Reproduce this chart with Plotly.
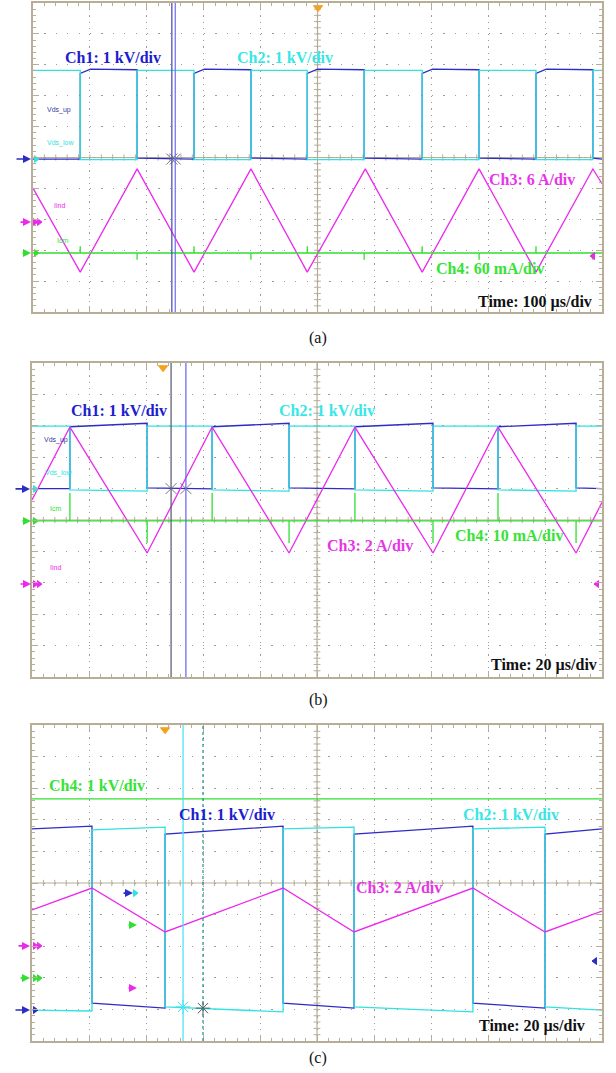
import plotly.graph_objects as go

W, H = 616, 1073

# ---------------- Panel (a): 100 us/div ----------------
a_edges = [0, 83, 183, 283, 383, 482, 582, 684, 784, 884, 984, 1000]
a_ch1_start = [-0.05, 2.72, -0.02, 2.72, -0.02, 2.72, -0.02, 2.72, -0.02, 2.72, -0.02]
a_ch1_knee = [None, 2.86, None, 2.86, None, 2.86, None, 2.86, None, 2.86, None]
a_ch1_knee_dt = 18
a_ch1_end = [-0.05, 2.84, -0.05, 2.84, -0.05, 2.84, -0.05, 2.84, -0.05, 2.84, -0.05]
a_ch2_start = [2.82, -0.07, 2.82, -0.07, 2.82, -0.07, 2.82, -0.07, 2.82, -0.07, 2.82]
a_ch2_end = [2.82, -0.07, 2.82, -0.07, 2.82, -0.07, 2.82, -0.07, 2.82, -0.07, 2.82]
a_ch3_t = [0, 83, 183, 283, 383, 482, 584, 684, 784, 884, 984, 1000]
a_ch3_v = [-0.99, -3.71, -0.37, -3.71, -0.37, -3.71, -0.37, -3.71, -0.37, -3.71, -0.37, -0.85]
a_ch4_level = -3.09
a_ch4_spike_t = [83, 183, 283, 383, 482, 582, 684, 784, 884, 984]
a_ch4_spike_v = [-2.87, -3.31, -2.87, -3.31, -2.87, -3.31, -2.87, -3.31, -2.87, -3.31]

# ---------------- Panel (b): 20 us/div ----------------
b_edges = [0, 13.3, 40.4, 63.2, 90.2, 113.3, 140.7, 163.5, 190.9, 200]
b_ch1_start = [1.00, 2.97, 1.02, 2.97, 1.02, 2.97, 1.02, 2.97, 1.02]
b_ch1_end = [1.00, 3.08, 0.99, 3.08, 0.99, 3.08, 0.99, 3.08, 1.00]
b_ch2_start = [2.99, 0.96, 2.99, 0.96, 2.99, 0.96, 2.99, 0.96, 2.99]
b_ch2_end = [2.99, 0.92, 2.99, 0.92, 2.99, 0.92, 2.99, 0.92, 2.99]
b_ch3_t = [0, 13.3, 40.4, 63.2, 90.2, 113.3, 140.7, 163.5, 190.9, 200]
b_ch3_v = [0.64, 2.96, -1.05, 2.96, -1.05, 2.96, -1.05, 2.96, -1.05, 0.56]
b_ch4_level = -0.03
b_ch4_spike_t = [13.3, 40.4, 63.2, 90.2, 113.3, 140.7, 163.5, 190.9]
b_ch4_spike_v = [0.86, -0.73, 0.86, -0.73, 0.86, -0.73, 0.86, -0.73]

# ---------------- Panel (c): 20 us/div ----------------
c_edges = [0, 21.05, 46.7, 88.1, 113.0, 154.7, 180.0, 200]
c_ch1_start = [1.71, -3.80, 1.55, -3.80, 1.55, -3.80, 1.55]
c_ch1_end = [1.80, -3.96, 1.80, -3.96, 1.80, -3.96, 1.71]
c_ch2_start = [-4.02, 1.68, -3.92, 1.71, -3.92, 1.71, -3.92]
c_ch2_end = [-4.05, 1.77, -4.08, 1.77, -4.08, 1.77, -4.02]
c_ch3_t = [0, 21.05, 46.7, 88.1, 113.0, 154.7, 180.0, 200]
c_ch3_v = [-0.85, -0.16, -1.55, -0.16, -1.55, -0.16, -1.55, -0.89]
c_ch4_t = [0, 200]
c_ch4_v = [2.66, 2.66]

# scale labels
a_labels = ["Ch1: 1 kV/div", "Ch2: 1 kV/div", "Ch3: 6 A/div", "Ch4: 60 mA/div", "Time: 100 \u00b5s/div"]
b_labels = ["Ch1: 1 kV/div", "Ch2: 1 kV/div", "Ch3: 2 A/div", "Ch4: 10 mA/div", "Time: 20 \u00b5s/div"]
c_labels = ["Ch1: 1 kV/div", "Ch2: 1 kV/div", "Ch3: 2 A/div", "Ch4: 1 kV/div", "Time: 20 \u00b5s/div"]
trace_names = ["Vds_up", "Vds_low", "Iind", "Icm"]

# ---------------- styles ----------------
LINE = {"ch1": "#2c2cc6", "ch2": "#30e2e2", "ch3": "#ec28ec", "ch4": "#30df30"}
TEXT = {"ch1": "#1d1dce", "ch2": "#38e6e6", "ch3": "#e834e8", "ch4": "#36e336", "time": "#111111"}
FRAME = "#b8ae97"
GRID = "#9c9c9c"
SERIF = "Liberation Serif"


def square(edges, start, end, knee=None, knee_dt=0):
    xs, ys = [], []
    for i in range(len(start)):
        xs.append(edges[i])
        ys.append(start[i])
        if knee is not None and knee[i] is not None:
            xs.append(edges[i] + knee_dt)
            ys.append(knee[i])
        xs.append(edges[i + 1])
        ys.append(end[i])
    return xs, ys


def spikes(span, level, ts, vs):
    xs, ys = [0], [level]
    for t, v in zip(ts, vs):
        xs += [t, t, t]
        ys += [level, v, level]
    xs.append(span)
    ys.append(level)
    return xs, ys


panels = [
    dict(xa="x", ya="y", xdom=(33 / W, 602 / W), ydom=(1 - 312 / H, 1 - 3 / H), span=1000,
         label="(a)", label_y=338, left=33, pxdiv=56.9),
    dict(xa="x2", ya="y2", xdom=(32 / W, 602 / W), ydom=(1 - 677 / H, 1 - 363 / H), span=200,
         label="(b)", label_y=700, left=32, pxdiv=57.0),
    dict(xa="x3", ya="y3", xdom=(32 / W, 602 / W), ydom=(1 - 1041 / H, 1 - 725 / H), span=200,
         label="(c)", label_y=1058, left=32, pxdiv=57.0),
]

fig = go.Figure()
annotations = []
shapes = []


def add_line(p, x, y, color, width=1.3, dash=None):
    fig.add_trace(go.Scatter(x=x, y=y, xaxis=p["xa"], yaxis=p["ya"], mode="lines",
                             line=dict(color=color, width=width, dash=dash),
                             hoverinfo="skip", showlegend=False))


def add_marks(p, x, y, symbol, color, size, lw=1):
    fig.add_trace(go.Scatter(x=x, y=y, xaxis=p["xa"], yaxis=p["ya"], mode="markers",
                             marker=dict(symbol=symbol, color=color, size=size,
                                         line=dict(color=color, width=lw)),
                             cliponaxis=False, hoverinfo="skip", showlegend=False))


def t_of(p, px):
    return (px - p["left"]) / p["pxdiv"] * p["span"] / 10


def text(p, x, y, s, color, size=16, anchor="center", bold=True, family=SERIF):
    annotations.append(dict(x=x, y=y, xref=p["xa"], yref=p["ya"], text=("<b>%s</b>" % s) if bold else s,
                            showarrow=False, xanchor=anchor, yanchor="middle",
                            font=dict(family=family, size=size, color=color)))


def arrow(p, head_px, tail_px, y, color):
    annotations.append(dict(x=head_px / W, y=y, xref="paper", yref=p["ya"], text="",
                            showarrow=True, ax=tail_px - head_px, ay=0, arrowhead=2,
                            arrowsize=1, arrowwidth=1.6, arrowcolor=color, standoff=0))


def grid_decor(p):
    span = p["span"]
    c = span / 2
    shapes.append(dict(type="line", xref=p["xa"], yref=p["ya"], x0=c, x1=c, y0=-5, y1=5,
                       line=dict(color=FRAME, width=1.2), layer="below"))
    shapes.append(dict(type="line", xref=p["xa"], yref=p["ya"], x0=0, x1=span, y0=0, y1=0,
                       line=dict(color=FRAME, width=1.2), layer="below"))
    xs, ys = [], []
    for k in range(1, 50):
        yy = -5 + k * 0.2
        xs += [c - span * 0.006, c + span * 0.006, None]
        ys += [yy, yy, None]
        xx = k * span / 50
        xs += [xx, xx, None]
        ys += [-0.1, 0.1, None]
    add_line(p, xs, ys, FRAME, width=1)


layout_axes = {}
for p in panels:
    n = p["xa"][1:]
    span = p["span"]
    common = dict(showticklabels=False, showline=True, linecolor=FRAME, linewidth=1.5,
                  mirror="allticks", ticks="inside", tickcolor=FRAME, tickwidth=1, ticklen=6,
                  zeroline=False, showgrid=True, gridcolor=GRID, gridwidth=1, fixedrange=True)
    layout_axes["xaxis" + n] = dict(domain=list(p["xdom"]), range=[0, span], dtick=span / 10, tick0=0,
                                    anchor=p["ya"], griddash="1.2px,5px",
                                    minor=dict(dtick=span / 50, ticks="inside", ticklen=3,
                                               tickcolor=FRAME, showgrid=False), **common)
    layout_axes["yaxis" + n] = dict(domain=list(p["ydom"]), range=[-5, 5], dtick=1, tick0=0,
                                    anchor=p["xa"], griddash="1.2px,10.2px",
                                    minor=dict(dtick=0.2, ticks="inside", ticklen=3,
                                               tickcolor=FRAME, showgrid=False), **common)
    grid_decor(p)
    annotations.append(dict(x=318 / W, y=1 - p["label_y"] / H, xref="paper", yref="paper",
                            text=p["label"], showarrow=False, xanchor="center", yanchor="middle",
                            font=dict(family=SERIF, size=16, color="#111111")))

pa, pb, pc = panels

# ---------------- Panel (a) ----------------
x, y = square(a_edges, a_ch1_start, a_ch1_end, a_ch1_knee, a_ch1_knee_dt)
add_line(pa, x, y, LINE["ch1"])
x, y = square(a_edges, a_ch2_start, a_ch2_end)
add_line(pa, x, y, LINE["ch2"])
add_line(pa, a_ch3_t, a_ch3_v, LINE["ch3"])
x, y = spikes(1000, a_ch4_level, a_ch4_spike_t, a_ch4_spike_v)
add_line(pa, x, y, LINE["ch4"])
for cx, col in [(244, "#4646a6"), (250, "#6c6cf2")]:
    shapes.append(dict(type="line", xref="x", yref="y", x0=cx, x1=cx, y0=-5, y1=5,
                       line=dict(color=col, width=1.2), layer="above"))
add_marks(pa, [244, 250], [-0.05, -0.05], "x-thin", "#7a7a7a", 11)
add_marks(pa, [500.9], [4.85], "triangle-down", "#f5a11e", 8)
add_marks(pa, [t_of(pa, 36)], [-0.05], "triangle-right", LINE["ch2"], 6)
add_marks(pa, [t_of(pa, 35), t_of(pa, 39)], [-2.09, -2.09], "triangle-right", LINE["ch3"], 6)
add_marks(pa, [t_of(pa, 36)], [-3.09], "triangle-right", LINE["ch4"], 6)
add_marks(pa, [t_of(pa, 593)], [-3.19], "triangle-left", LINE["ch3"], 6)
text(pa, 141, 3.25, a_labels[0], TEXT["ch1"])
text(pa, 443, 3.25, a_labels[1], TEXT["ch2"])
text(pa, 877, -0.70, a_labels[2], TEXT["ch3"])
text(pa, 803, -3.58, a_labels[3], TEXT["ch4"])
text(pa, 986, -4.68, a_labels[4], TEXT["time"], anchor="right")
text(pa, 21, 1.54, trace_names[0], "#3a3aa0", size=7, anchor="left", bold=False, family="Liberation Sans")
text(pa, 21, 0.47, trace_names[1], LINE["ch2"], size=7, anchor="left", bold=False, family="Liberation Sans")
text(pa, 33, -1.54, trace_names[2], LINE["ch3"], size=7, anchor="left", bold=False, family="Liberation Sans")
text(pa, 38, -2.67, trace_names[3], LINE["ch4"], size=7, anchor="left", bold=False, family="Liberation Sans")
arrow(pa, 31, 15, -0.05, LINE["ch1"])
arrow(pa, 31, 19, -2.09, LINE["ch3"])
arrow(pa, 31, 21, -3.09, LINE["ch4"])

# ---------------- Panel (b) ----------------
x, y = square(b_edges, b_ch1_start, b_ch1_end)
add_line(pb, x, y, LINE["ch1"])
x, y = square(b_edges, b_ch2_start, b_ch2_end)
add_line(pb, x, y, LINE["ch2"])
add_line(pb, b_ch3_t, b_ch3_v, LINE["ch3"])
x, y = spikes(200, b_ch4_level, b_ch4_spike_t, b_ch4_spike_v)
add_line(pb, x, y, LINE["ch4"])
for cx, col in [(48.8, "#55556e"), (54.0, "#6464f2")]:
    shapes.append(dict(type="line", xref="x2", yref="y2", x0=cx, x1=cx, y0=-5, y1=5,
                       line=dict(color=col, width=1.2), layer="above"))
add_marks(pb, [48.8, 54.0], [1.0, 1.0], "x-thin", "#7a7a7a", 11)
add_marks(pb, [46.0], [4.85], "triangle-down", "#f5a11e", 8)
add_marks(pb, [t_of(pb, 35)], [0.99], "triangle-right", LINE["ch2"], 6)
add_marks(pb, [t_of(pb, 35), t_of(pb, 39)], [-2.04, -2.04], "triangle-right", LINE["ch3"], 6)
add_marks(pb, [t_of(pb, 35)], [-0.03], "triangle-right", LINE["ch4"], 6)
add_marks(pb, [t_of(pb, 597)], [-2.04], "triangle-left", LINE["ch3"], 6)
text(pb, 30.5, 3.50, b_labels[0], TEXT["ch1"])
text(pb, 103.5, 3.50, b_labels[1], TEXT["ch2"])
text(pb, 118.6, -0.80, b_labels[2], TEXT["ch3"])
text(pb, 167.4, -0.48, b_labels[3], TEXT["ch4"])
text(pb, 198.9, -4.62, b_labels[4], TEXT["time"], anchor="right")
text(pb, 3.5, 2.55, trace_names[0], "#3a3aa0", size=7, anchor="left", bold=False, family="Liberation Sans")
text(pb, 3.9, 1.50, trace_names[1], LINE["ch2"], size=7, anchor="left", bold=False, family="Liberation Sans")
text(pb, 5.6, -1.50, trace_names[2], LINE["ch3"], size=7, anchor="left", bold=False, family="Liberation Sans")
text(pb, 5.6, 0.38, trace_names[3], LINE["ch4"], size=7, anchor="left", bold=False, family="Liberation Sans")
arrow(pb, 30, 14, 0.99, LINE["ch1"])
arrow(pb, 31, 21, -0.03, LINE["ch4"])
arrow(pb, 31, 19, -2.04, LINE["ch3"])

# ---------------- Panel (c) ----------------
add_line(pc, c_ch4_t, c_ch4_v, LINE["ch4"])
x, y = square(c_edges, c_ch1_start, c_ch1_end)
add_line(pc, x, y, LINE["ch1"])
x, y = square(c_edges, c_ch2_start, c_ch2_end)
add_line(pc, x, y, LINE["ch2"])
add_line(pc, c_ch3_t, c_ch3_v, LINE["ch3"])
shapes.append(dict(type="line", xref="x3", yref="y3", x0=53.0, x1=53.0, y0=-5, y1=5,
                   line=dict(color="#4fe4f0", width=1.3), layer="above"))
shapes.append(dict(type="line", xref="x3", yref="y3", x0=60.0, x1=60.0, y0=-5, y1=5,
                   line=dict(color="#1f8f8f", width=1.2, dash="dot"), layer="above"))
add_marks(pc, [53.0], [-3.92], "asterisk", "#40e0ee", 12)
add_marks(pc, [60.0], [-3.96], "asterisk", "#505a5a", 12)
add_marks(pc, [46.7], [4.85], "triangle-down", "#f5a11e", 8)
add_marks(pc, [t_of(pc, 35), t_of(pc, 39)], [-1.99, -1.99], "triangle-right", LINE["ch3"], 6)
add_marks(pc, [t_of(pc, 35), t_of(pc, 39)], [-3.01, -3.01], "triangle-right", LINE["ch4"], 6)
add_marks(pc, [t_of(pc, 35)], [-4.02], "triangle-right", LINE["ch1"], 6)
add_marks(pc, [t_of(pc, 135)], [-0.32], "triangle-right", LINE["ch2"], 6)
add_marks(pc, [t_of(pc, 595)], [-2.47], "triangle-left", LINE["ch1"], 6)
text(pc, 68.4, 2.18, c_labels[0], TEXT["ch1"])
text(pc, 168.1, 2.18, c_labels[1], TEXT["ch2"])
text(pc, 128.8, -0.13, c_labels[2], TEXT["ch3"])
text(pc, 22.8, 3.07, c_labels[3], TEXT["ch4"])
text(pc, 194.7, -4.53, c_labels[4], TEXT["time"], anchor="right")
arrow(pc, 30, 17, -1.99, LINE["ch3"])
arrow(pc, 30, 19, -3.01, LINE["ch4"])
arrow(pc, 30, 14, -4.02, LINE["ch1"])
arrow(pc, 133, 122, -0.32, LINE["ch1"])
arrow(pc, 137, 127, -1.33, LINE["ch4"])
arrow(pc, 137, 127, -3.32, LINE["ch3"])

fig.update_layout(
    width=W, height=H, autosize=False,
    margin=dict(l=0, r=0, t=0, b=0, pad=0),
    paper_bgcolor="white", plot_bgcolor="white",
    showlegend=False,
    annotations=annotations, shapes=shapes,
    **layout_axes,
)

fig.write_html("out.html", post_script="document.body.style.margin='0px';",
               config={"displayModeBar": False})
